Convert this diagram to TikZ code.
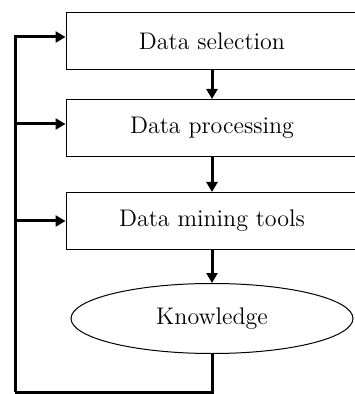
\documentclass[tikz,border=0pt]{standalone}
\usepackage{tikz}
\usetikzlibrary{positioning,shapes.geometric,arrows.meta}

\tikzset{
	stepbox/.style={draw, rectangle, line width=0.5pt, minimum width=146pt, minimum height=28.5pt, inner sep=0pt, font=\fontsize{12}{14}\selectfont},
	flow/.style={-{Triangle[width=5.5pt,length=5pt]}, line width=1.5pt},
	loop/.style={-, line width=1.5pt, line join=miter}
}

\begin{document}
\begin{tikzpicture}[x=0.5pt, y=-0.5pt]
	\useasboundingbox (0,0) rectangle (354,394);

	\node [stepbox] (sel) at (212,41) {Data selection};
	\node [stepbox, below=14.5pt of sel] (proc) {Data processing};
	\node [stepbox, below=17.5pt of proc] (mine) {Data mining tools};
	\node [draw, ellipse, line width=0.5pt, minimum width=141pt, minimum height=35pt, inner sep=0pt, font=\fontsize{12}{14}\selectfont, below=16.5pt of mine] (know) {Knowledge};

	\draw [flow] (sel) -- (proc);
	\draw [flow] (proc) -- (mine);
	\draw [flow] (mine) -- (know);

	% feedback loop
	\coordinate (corner) at (15,392);
	\draw [loop] (know.south) |- (corner);
	\draw [flow] (corner) |- ([yshift=2pt] sel.west);
	\draw [flow] (corner) |- ([yshift=2pt] proc.west);
	\draw [flow] (corner) |- (mine.west);
\end{tikzpicture}
\end{document}
